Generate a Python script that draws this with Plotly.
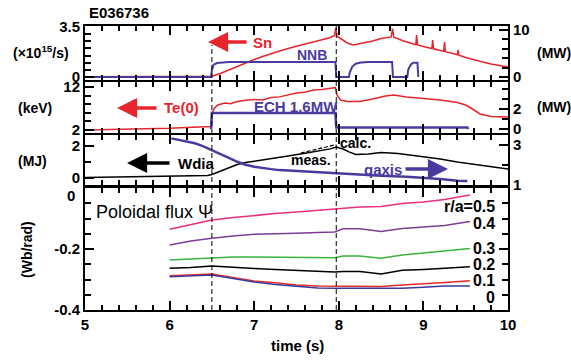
import plotly.graph_objects as go

# ---------------- data ----------------
t_sn = [5.0, 5.5, 6.0, 6.45, 6.5, 6.6, 6.7, 6.8, 6.9, 7.0, 7.1, 7.2, 7.3, 7.4, 7.5, 7.6, 7.7, 7.8, 7.9, 7.95, 7.965,
        7.98, 8.05, 8.1, 8.17, 8.3, 8.4, 8.5, 8.62, 8.635, 8.65, 8.76, 8.91, 8.92, 8.93, 9.0, 9.10, 9.11, 9.12, 9.2,
        9.24, 9.25, 9.26, 9.35, 9.40, 9.41, 9.42, 9.5, 9.6, 9.7, 9.8, 9.9, 10.0]
sn = [0.02, 0.02, 0.03, 0.03, 0.05, 0.24, 0.49, 0.73, 0.98, 1.22, 1.43, 1.64, 1.82, 1.99, 2.17, 2.31, 2.45, 2.59, 2.76, 2.90, 3.43,
      2.85, 2.59, 2.38, 2.24, 2.38, 2.52, 2.69, 2.80, 3.39, 2.78, 2.54, 2.26, 2.94, 2.24, 2.13, 1.99, 2.59, 1.97, 1.85,
      1.79, 2.45, 1.77, 1.64, 1.56, 1.89, 1.53, 1.36, 1.19, 1.05, 0.91, 0.80, 0.70]

t_nnb = [5.0, 6.49, 6.5, 6.52, 6.56, 6.62, 6.7, 7.96, 7.97, 8.12, 8.13, 8.16, 8.2, 8.26, 8.35, 8.63, 8.64,
         8.81, 8.82, 8.85, 8.88, 8.93, 8.94]
nnb = [0, 0, 1.5, 2.6, 2.95, 3.1, 3.15, 3.15, 0, 0, 1.0, 2.2, 2.8, 3.05, 3.15, 3.15, 0,
       0, 1.5, 2.6, 3.0, 3.0, 0]

t_te = [5.0, 5.3, 5.5, 5.8, 6.0, 6.2, 6.45, 6.49, 6.5, 6.53, 6.57, 6.65, 6.72, 6.8, 6.9, 7.0, 7.1, 7.2, 7.3, 7.4, 7.5,
        7.6, 7.7, 7.8, 7.9, 7.96, 7.98, 8.02, 8.1, 8.25, 8.4, 8.55, 8.65, 8.8, 9.0, 9.2, 9.4, 9.5, 9.58, 9.67,
        9.8, 10.0]
te0 = [2.0, 2.1, 2.16, 2.3, 2.40, 2.58, 2.70, 2.81, 5.72, 7.12, 7.81, 8.28, 8.1, 8.63, 8.9, 9.09, 9.0, 9.56, 9.7, 10.14, 10.6,
       10.8, 11.3, 11.4, 11.77, 11.88, 10.14, 8.98, 8.63, 8.63, 9.21, 9.91, 10.14, 9.67, 9.33, 8.98, 8.40, 7.81, 6.88, 5.72,
       5.14, 5.02]

t_ech = [6.49, 6.5, 7.96, 7.97, 9.52, 9.53]
ech = [0, 1.6, 1.6, 0.15, 0.15, 0]

t_w = [5.0, 5.5, 6.0, 6.45, 6.5, 6.6, 6.7, 6.8, 6.9, 7.0, 7.2, 7.4, 7.6, 7.8, 7.9, 7.97, 8.05, 8.12, 8.2, 8.35,
       8.5, 8.7, 9.0, 9.2, 9.4, 9.6, 9.8, 10.0]
wdia = [0.03, 0.06, 0.13, 0.16, 0.22, 0.44, 0.66, 0.84, 0.97, 1.06, 1.22, 1.38, 1.55, 1.72, 1.82, 1.94, 1.81, 1.63, 1.47, 1.50,
        1.59, 1.53, 1.34, 1.19, 1.0, 0.84, 0.69, 0.56]
t_calc = [7.55, 7.7, 7.85, 7.97]
wcalc = [1.56, 1.75, 1.94, 2.09]

t_q = [6.02, 6.1, 6.2, 6.3, 6.4, 6.5, 6.6, 6.7, 6.8, 6.9, 7.0, 7.1, 7.2, 7.3, 7.5, 7.7, 7.97, 8.2, 8.5, 8.8, 9.0, 9.2, 9.4, 9.52]
qaxis = [3.33, 3.25, 3.18, 3.08, 2.93, 2.75, 2.55, 2.35, 2.15, 2.0, 1.90, 1.83, 1.78, 1.73, 1.68, 1.65, 1.60, 1.53, 1.45, 1.40,
         1.35, 1.28, 1.20, 1.18]

t_flux = [6.0, 6.25, 6.5, 6.75, 7.0, 7.25, 7.5, 7.75, 7.95, 8.05, 8.25, 8.5, 8.75, 9.0, 9.25, 9.55]
flux_05 = [-0.135, -0.121, -0.105, -0.097, -0.090, -0.084, -0.079, -0.074, -0.070, -0.067, -0.062, -0.061, -0.051, -0.046, -0.038, -0.023]
flux_04 = [-0.187, -0.174, -0.165, -0.157, -0.152, -0.149, -0.148, -0.146, -0.144, -0.134, -0.134, -0.143, -0.133, -0.128, -0.123, -0.110]
flux_03 = [-0.236, -0.233, -0.228, -0.226, -0.226, -0.227, -0.228, -0.228, -0.229, -0.223, -0.223, -0.230, -0.220, -0.213, -0.207, -0.198]
flux_02 = [-0.263, -0.261, -0.256, -0.261, -0.264, -0.267, -0.270, -0.274, -0.275, -0.274, -0.274, -0.282, -0.270, -0.267, -0.262, -0.258]
flux_01 = [-0.288, -0.285, -0.282, -0.293, -0.305, -0.311, -0.318, -0.321, -0.321, -0.321, -0.321, -0.323, -0.318, -0.315, -0.310, -0.304]
flux_00 = [-0.291, -0.289, -0.285, -0.297, -0.308, -0.316, -0.323, -0.328, -0.329, -0.329, -0.329, -0.330, -0.329, -0.325, -0.321, -0.321]
flux_labels = ["r/a=0.5", "0.4", "0.3", "0.2", "0.1", "0"]

t_dash = [6.5, 7.97]

RED = "#e8242c"
PUR = "#4b3a9e"
FONT = "Liberation Sans"

fig = go.Figure()

# panel 1
fig.add_trace(go.Scatter(x=t_sn, y=sn, xaxis="x4", yaxis="y4", mode="lines", line=dict(color=RED, width=1.5)))
fig.add_trace(go.Scatter(x=t_nnb, y=nnb, xaxis="x4", yaxis="y5", mode="lines", line=dict(color=PUR, width=2)))
# panel 2
fig.add_trace(go.Scatter(x=t_te, y=te0, xaxis="x3", yaxis="y3", mode="lines", line=dict(color=RED, width=1.5)))
fig.add_trace(go.Scatter(x=t_ech, y=ech, xaxis="x3", yaxis="y6", mode="lines", line=dict(color=PUR, width=2.5)))
# panel 3
fig.add_trace(go.Scatter(x=t_w, y=wdia, xaxis="x2", yaxis="y2", mode="lines", line=dict(color="black", width=1.5)))
fig.add_trace(go.Scatter(x=t_calc, y=wcalc, xaxis="x2", yaxis="y2", mode="lines", line=dict(color="black", width=1.2, dash="4px,2px")))
fig.add_trace(go.Scatter(x=t_q, y=qaxis, xaxis="x2", yaxis="y7", mode="lines", line=dict(color=PUR, width=2.5)))
# panel 4
flux_colors = ["#e8307a", "#7d3c98", "#3cb33c", "black", "#e42b2b", "#3a3a9c"]
for vals, col in zip([flux_05, flux_04, flux_03, flux_02, flux_01, flux_00], flux_colors):
    fig.add_trace(go.Scatter(x=t_flux, y=vals, xaxis="x", yaxis="y", mode="lines", line=dict(color=col, width=1.5)))

axfont = dict(family=FONT, size=15, color="black", weight="bold")
xcommon = dict(range=[5, 10], showline=True, linewidth=2, linecolor="black", mirror="ticks", ticks="inside",
               ticklen=9, tickwidth=2, tickcolor="black", dtick=1, showgrid=False, zeroline=False,
               minor=dict(ticks="inside", dtick=0.2, ticklen=5, tickwidth=1.5, tickcolor="black"),
               tickfont=axfont)
ycommon = dict(showline=True, linewidth=2, linecolor="black", ticks="inside", ticklen=9, tickwidth=2,
               tickcolor="black", showgrid=False, zeroline=False, tickfont=axfont)


def P(py):
    return (310 - py) / 284.0


def X(px):
    return (px - 85) / 423.0


fig.update_layout(
    width=571, height=360, margin=dict(l=85, r=63, t=26, b=50),
    paper_bgcolor="white", plot_bgcolor="white", showlegend=False,
    font=dict(family=FONT, color="black"),
    xaxis=dict(xcommon, anchor="y", showticklabels=True),
    xaxis2=dict(xcommon, anchor="y2", matches="x", showticklabels=False),
    xaxis3=dict(xcommon, anchor="y3", matches="x", showticklabels=False),
    xaxis4=dict(xcommon, anchor="y4", matches="x", showticklabels=False),
    yaxis=dict(ycommon, domain=[0, P(188)], range=[-0.4, 0.0], mirror="ticks", anchor="x",
               tickvals=[0, -0.2, -0.4], ticktext=["", "-0.2", "-0.4"],
               minor=dict(ticks="inside", tickvals=[-0.05, -0.1, -0.15, -0.25, -0.3, -0.35], ticklen=6,
                          tickwidth=1.5, tickcolor="black")),
    yaxis2=dict(ycommon, domain=[P(185), P(135)], range=[-0.4375, 2.6875], anchor="x2",
                tickvals=[0, 2], minor=dict(ticks="inside", tickvals=[1], ticklen=6, tickwidth=1.5, tickcolor="black")),
    yaxis3=dict(ycommon, domain=[P(133), P(82)], range=[1.30, 13.16], anchor="x3",
                tickvals=[2, 12], minor=dict(ticks="inside", tickvals=[4, 6, 8, 10], ticklen=6, tickwidth=1.5, tickcolor="black")),
    yaxis4=dict(ycommon, domain=[P(80), P(26)], range=[-0.21, 3.566], anchor="x4",
                tickvals=[0, 3.5], minor=dict(ticks="inside", tickvals=[0.5, 1, 1.5, 2, 2.5, 3], ticklen=6, tickwidth=1.5, tickcolor="black")),
    yaxis5=dict(ycommon, overlaying="y4", side="right", anchor="x4", range=[-0.63, 10.74],
                tickvals=[0, 10], minor=dict(ticks="inside", tickvals=[2, 4, 6, 8], ticklen=6, tickwidth=1.5, tickcolor="black")),
    yaxis6=dict(ycommon, overlaying="y3", side="right", anchor="x3", range=[-0.4, 4.7],
                tickvals=[0, 2], minor=dict(ticks="inside", tickvals=[1, 3, 4], ticklen=6, tickwidth=1.5, tickcolor="black")),
    yaxis7=dict(ycommon, overlaying="y2", side="right", anchor="x2", range=[0.98, 3.5],
                tickvals=[1, 3], minor=dict(ticks="inside", tickvals=[2], ticklen=6, tickwidth=1.5, tickcolor="black")),
)

# dashed vertical lines
for td, top in zip(t_dash, [P(45), 1.0]):
    fig.add_shape(type="line", xref="x", yref="paper", x0=td, x1=td, y0=0, y1=top,
                  line=dict(color="black", width=1, dash="5px,3px"))


def txt(s, px, py, xanchor="left", color="black", size=15, weight="bold", angle=0):
    fig.add_annotation(text=s, xref="paper", yref="paper", x=X(px), y=P(py), xanchor=xanchor, yanchor="middle",
                       showarrow=False, textangle=angle,
                       font=dict(family=FONT, size=size, color=color, weight=weight))


def arrow(tip, tail, py, color):
    fig.add_annotation(text="", xref="paper", yref="paper", x=X(tip), y=P(py), ax=tail - tip, ay=0,
                       showarrow=True, arrowhead=2, arrowsize=1.15, arrowwidth=3.5, arrowcolor=color, standoff=0)


txt("E036736", 87, 12, size=15)
txt("(×10<sup>15</sup>/s)", 41, 52, xanchor="center", size=14)
txt("(keV)", 35, 108, xanchor="center", size=14)
txt("(MJ)", 32, 161, xanchor="center", size=14)
txt("(Wb/rad)", 27, 250, xanchor="center", size=14, angle=-90)
txt("(MW)", 535, 53, size=14)
txt("(MW)", 535, 107, size=14)
txt("Sn", 251, 42, color=RED)
arrow(208, 248, 42, RED)
txt("NNB", 312, 55, xanchor="center", color=PUR, size=14)
txt("Te(0)", 162, 108, color=RED)
arrow(117, 158, 108, RED)
txt("ECH 1.6MW", 252, 107, color=PUR)
txt("Wdia", 176, 163)
arrow(127, 171, 163, "black")
txt("calc.", 338, 143, size=14)
txt("meas.", 333, 160, xanchor="right", size=14)
txt("qaxis", 362, 169, color=PUR)
arrow(448, 404, 169, PUR)
txt("Poloidal flux Ψ", 94, 212, weight="normal", size=18)
for lab, py in zip(flux_labels, [207, 223, 248, 264, 280, 297]):
    txt(lab, 497, py, xanchor="right", size=16)
txt("0", 71, 195, xanchor="center", size=15)
txt("time (s)", 297, 345, xanchor="center", size=15)

fig.write_html("out.html")
